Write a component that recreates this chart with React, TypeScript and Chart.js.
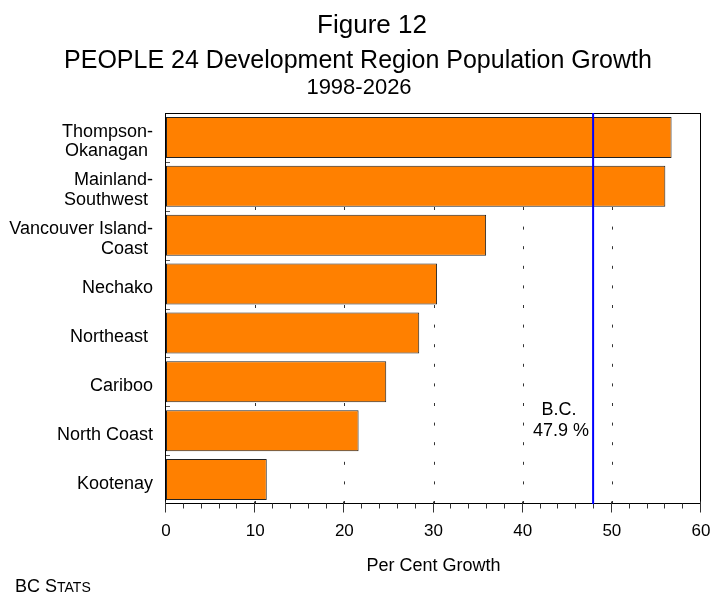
import { useEffect, useRef } from "react";
import { Chart, registerables } from "chart.js";

Chart.register(...registerables);

const categories: (string | string[])[] = [
  ["Thompson-", "Okanagan "],
  ["Mainland-", "Southwest "],
  ["Vancouver Island-", "Coast "],
  "Nechako",
  "Northeast ",
  "Cariboo",
  "North Coast",
  "Kootenay",
];
const growth = [56.7, 56.0, 35.9, 30.4, 28.4, 24.7, 21.6, 11.3];
const bcGrowth = 47.9;
const bcLabel = ["B.C.", "47.9 %"];
const gridValues = [10, 20, 30, 40, 50];
const majorTicks = [0, 10, 20, 30, 40, 50, 60];
const minorTicks = [2, 4, 6, 8, 12, 14, 16, 18, 22, 24, 26, 28, 32, 34, 36, 38, 42, 44, 46, 48, 52, 54, 56, 58];
const titleLines = ["Figure 12", "PEOPLE 24 Development Region Population Growth", "1998-2026"];
const xTitle = "Per Cent Growth";

const FONT = "'Liberation Sans', Arial, Helvetica, sans-serif";

const decorPlugin = {
  id: "decor",
  beforeDatasetsDraw(chart: any) {
    const { ctx, chartArea, scales } = chart;
    const { top, bottom } = chartArea;
    const x = scales.x;
    ctx.save();
    ctx.strokeStyle = "#333333";
    ctx.lineWidth = 1;
    ctx.setLineDash([3, 16.6]);
    for (const v of gridValues) {
      const px = Math.round(x.getPixelForValue(v)) + 0.5;
      ctx.beginPath();
      ctx.moveTo(px, bottom);
      ctx.lineTo(px, top);
      ctx.stroke();
    }
    ctx.restore();
  },
  afterDatasetsDraw(chart: any) {
    const { ctx, chartArea, scales } = chart;
    const { left, right, top, bottom } = chartArea;
    const x = scales.x;
    const y = scales.y;
    ctx.save();
    ctx.strokeStyle = "#555555";
    ctx.lineWidth = 1;
    for (let i = 0; i < categories.length - 1; i++) {
      const yb = Math.round((y.getPixelForValue(i) + y.getPixelForValue(i + 1)) / 2) + 0.5;
      ctx.beginPath();
      ctx.moveTo(left, yb);
      ctx.lineTo(left + 4, yb);
      ctx.stroke();
    }
    ctx.strokeStyle = "#000000";
    ctx.lineWidth = 1;
    ctx.strokeRect(Math.round(left) - 0.5, Math.round(top) + 0.5, Math.round(right) - Math.round(left), Math.round(bottom) - Math.round(top) - 1);
    ctx.strokeStyle = "#333333";
    const yb = Math.round(bottom) - 0.5;
    for (const v of majorTicks) {
      const px = Math.round(x.getPixelForValue(v)) - 0.5;
      ctx.beginPath();
      ctx.moveTo(px, yb - 2);
      ctx.lineTo(px, yb + 9);
      ctx.stroke();
    }
    for (const v of minorTicks) {
      const px = Math.round(x.getPixelForValue(v)) - 0.5;
      ctx.beginPath();
      ctx.moveTo(px, yb);
      ctx.lineTo(px, yb + 5);
      ctx.stroke();
    }
    const bx = x.getPixelForValue(bcGrowth);
    ctx.strokeStyle = "#0000ff";
    ctx.lineWidth = 2;
    ctx.beginPath();
    ctx.moveTo(bx, top);
    ctx.lineTo(bx, bottom);
    ctx.stroke();
    ctx.fillStyle = "#000000";
    ctx.font = `18px ${FONT}`;
    ctx.textAlign = "center";
    ctx.textBaseline = "middle";
    const ly = y.getPixelForValue(6);
    ctx.fillText(bcLabel[0], bx - 34, ly - 21);
    ctx.fillText(bcLabel[1], bx - 32, ly);
    ctx.restore();
  },
  afterDraw(chart: any) {
    const { ctx } = chart;
    ctx.save();
    ctx.fillStyle = "#000000";
    ctx.textAlign = "center";
    ctx.textBaseline = "alphabetic";
    ctx.font = `26px ${FONT}`;
    ctx.fillText(titleLines[0], 372, 33);
    ctx.font = `25px ${FONT}`;
    ctx.fillText(titleLines[1], 358, 68);
    ctx.font = `22px ${FONT}`;
    ctx.fillText(titleLines[2], 359, 94);
    ctx.textAlign = "left";
    ctx.font = `18px ${FONT}`;
    let cx = 15;
    ctx.fillText("BC S", cx, 592);
    cx += ctx.measureText("BC S").width;
    ctx.font = `14px ${FONT}`;
    ctx.fillText("TATS", cx, 592);
    ctx.restore();
  },
};

export default function App() {
  const canvasRef = useRef<HTMLCanvasElement | null>(null);

  useEffect(() => {
    if (!canvasRef.current) return;
    const chart = new Chart(canvasRef.current, {
      type: "bar",
      data: {
        labels: categories,
        datasets: [
          {
            data: growth,
            backgroundColor: "#ff8000",
            borderColor: "#222222",
            borderWidth: 1,
            borderSkipped: false,
            categoryPercentage: 0.84,
            barPercentage: 1,
          },
        ],
      },
      options: {
        indexAxis: "y",
        animation: false,
        responsive: false,
        devicePixelRatio: 1,
        layout: { padding: { left: 0, right: 11, top: 113, bottom: 0 } },
        plugins: {
          legend: { display: false },
          tooltip: { enabled: false },
          title: { display: false },
        },
        scales: {
          x: {
            type: "linear",
            min: 0,
            max: 60,
            afterFit: (s: any) => {
              s.height = 94;
              s.paddingLeft = 0;
              s.paddingRight = 0;
            },
            afterBuildTicks: (s: any) => {
              s.ticks = majorTicks.map((v) => ({ value: v }));
            },
            grid: { display: false },
            border: { display: false },
            ticks: {
              padding: 9,
              color: "#000000",
              font: { family: FONT, size: 17 },
              maxRotation: 0,
            },
            title: {
              display: true,
              text: xTitle,
              color: "#000000",
              font: { family: FONT, size: 18 },
              padding: { top: 0, bottom: 21 },
            },
          },
          y: {
            afterFit: (s: any) => {
              s.width = 166;
              s.paddingTop = 0;
              s.paddingBottom = 0;
            },
            grid: { display: false, drawTicks: false },
            border: { display: false },
            ticks: {
              padding: 13,
              labelOffset: 4,
              color: "#000000",
              font: { family: FONT, size: 18, lineHeight: 1.1 },
            },
          },
        },
      },
      plugins: [decorPlugin],
    });
    return () => chart.destroy();
  }, []);

  return (
    <div style={{ position: "absolute", left: 0, top: 0, width: 712, height: 598, background: "#ffffff" }}>
      <canvas ref={canvasRef} width={712} height={598} style={{ width: 712, height: 598, display: "block" }} />
    </div>
  );
}
